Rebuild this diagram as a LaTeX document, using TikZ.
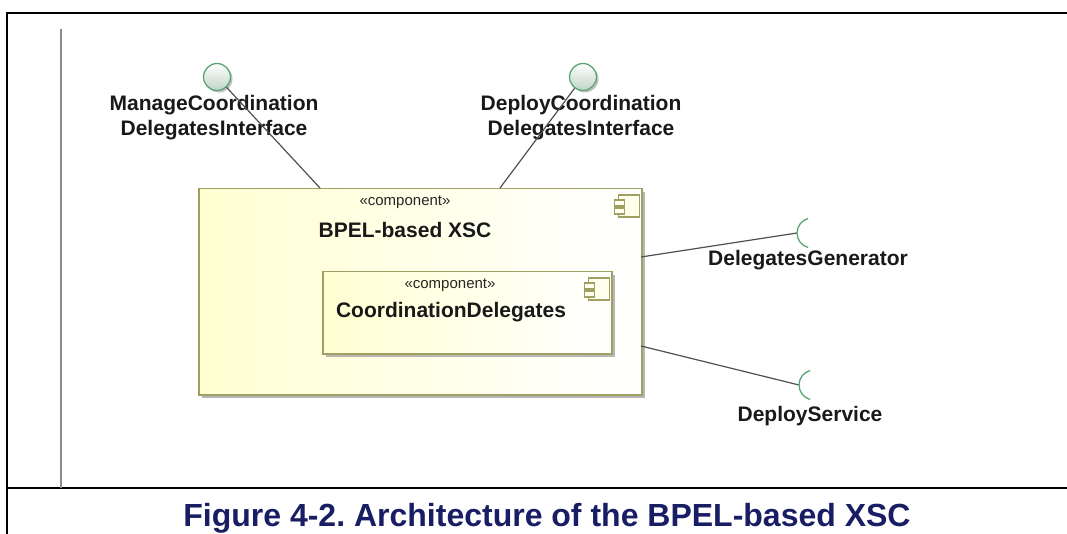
\documentclass[tikz,border=0pt]{standalone}
\usepackage{fontspec}
\setmainfont{Liberation Sans}
\usetikzlibrary{shadows}
\frenchspacing
\definecolor{compfill}{RGB}{255,255,210}
\definecolor{compline}{RGB}{160,160,100}
\definecolor{ifline}{RGB}{90,165,115}
\definecolor{iffill}{RGB}{190,212,196}
\definecolor{capblue}{RGB}{25,30,100}
\definecolor{connline}{RGB}{80,80,80}

\begin{document}
\begin{tikzpicture}[x=1pt,y=-1pt,
    comp box/.style={draw=compline,line width=1.5pt,left color=compfill,right color=white,
      anchor=north west,inner sep=0pt,
      drop shadow={shadow xshift=3pt,shadow yshift=-3pt,fill=black!40,opacity=0.7}},
    stereo/.style={font=\fontsize{15}{18}\selectfont,text=black!85},
    comp name/.style={font=\fontsize{21}{24}\selectfont\bfseries,text=black!90},
    if label/.style={font=\fontsize{21}{25}\selectfont\bfseries,text=black!90,align=center},
    ball/.style={circle,draw=ifline,line width=1.3pt,minimum size=27pt,inner sep=0pt,
      top color=white,bottom color=iffill,
      drop shadow={shadow xshift=2pt,shadow yshift=-2pt,fill=black!40,opacity=0.6}},
    socket/.style={draw=ifline,line width=1.3pt},
    conn/.style={draw=connline,line width=1.2pt},
    frame/.style={draw=black,line width=2.5pt},
    comp icon/.pic={
      \draw[compline,fill=compfill!40,line width=1.2pt] (-24,7) rectangle (-3,29);
      \draw[compline,fill=compfill!40,line width=1.2pt] (-28,12) rectangle (-18,18);
      \draw[compline,fill=compfill!40,line width=1.2pt] (-28,20) rectangle (-18,26);
    }]

  \useasboundingbox (0,0) rectangle (1067,534);

  % page frame
  \draw[frame] (1067,13) -- (7,13) -- (7,534);
  \draw[frame] (7,488) -- (1067,488);
  \draw[black!45,line width=2pt] (61,29) -- (61,488);

  % components
  \node[comp box,minimum width=443pt,minimum height=206pt] (xsc) at (198,188) {};
  \pic at (xsc.north east) {comp icon};
  \node[stereo] (xsc st) at (405,202) {«component»};
  \node[comp name] (xsc name) at (405,230) {BPEL-based XSC};

  \node[comp box,minimum width=289pt,minimum height=82pt] (cd) at (322,271) {};
  \pic at (cd.north east) {comp icon};
  \node[stereo] (cd st) at (450,285) {«component»};
  \node[comp name] (cd name) at (451,312) {CoordinationDelegates};

  % provided interfaces
  \node[ball] (mgmt if) at (217,77) {};
  \node[ball] (dep if) at (583,77) {};
  \node[if label] (mgmt lbl) at (214,117.5) {ManageCoordination\\DelegatesInterface};
  \node[if label] (dep lbl) at (581,117.5) {DeployCoordination\\DelegatesInterface};
  \coordinate (mgmt port) at (320,188);
  \coordinate (dep port) at (500,188);

  \foreach \s/\t in {mgmt if/mgmt port, dep if/dep port} {
    \path[conn] (\s) -- (\t);}

  % required interfaces
  \coordinate (dg sock) at (797,233);
  \coordinate (ds sock) at (799,385);
  \coordinate (dg port) at (641,257);
  \coordinate (ds port) at (641,346);
  \foreach \s/\t in {dg port/dg sock, ds port/ds sock} {
    \path[conn] (\s) -- (\t);
    \draw[socket] (\t) arc[start angle=180,end angle=105,radius=15pt]
                  (\t) arc[start angle=180,end angle=255,radius=15pt];}
  \node[comp name] (dg lbl) at (808,260) {DelegatesGenerator};
  \node[comp name] (ds lbl) at (810,416) {DeployService};

  % caption
  \node[anchor=base,font=\fontsize{32}{38}\selectfont\bfseries,text=capblue] (cap)
    at (547,526) {Figure 4-2. Architecture of the BPEL-based XSC};
\end{tikzpicture}
\end{document}
